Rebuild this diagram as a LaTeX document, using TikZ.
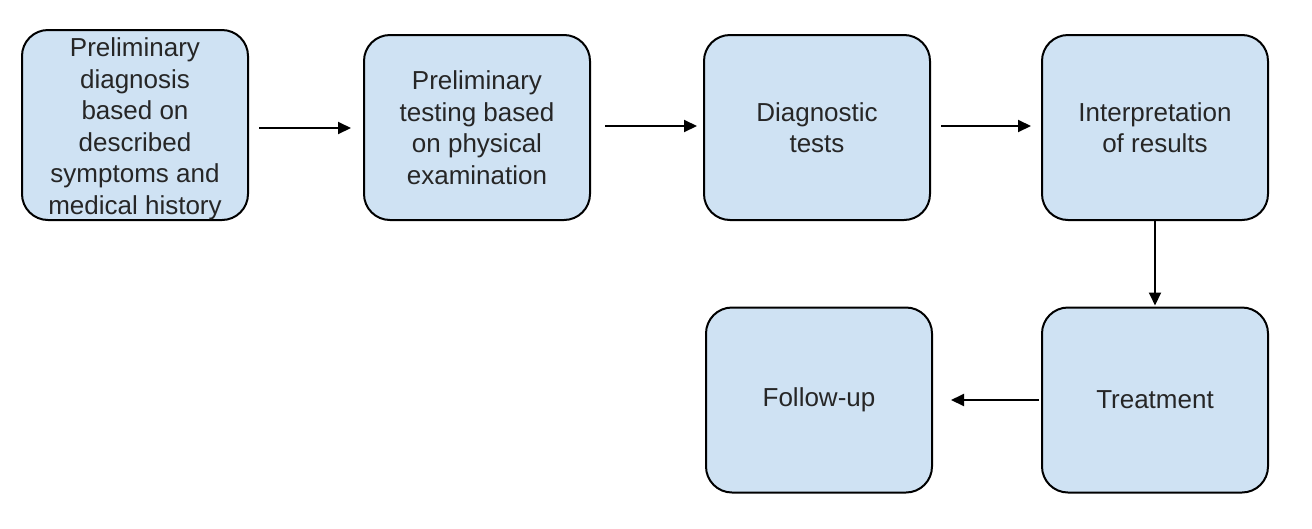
\documentclass[tikz,border=0pt]{standalone}
\usepackage{fontspec}
\setmainfont{Liberation Sans}
\usetikzlibrary{arrows.meta}
\definecolor{boxfill}{HTML}{CFE2F3}
\begin{document}
\begin{tikzpicture}[x=1pt,y=-1pt,
  boxtext/.style={inner sep=0pt, align=center,
    font=\fontsize{26}{31.5}\selectfont, text=black!85},
  stepbox/.style={boxtext, draw=black, line width=2pt, fill=boxfill, rounded corners=26pt,
    minimum width=226pt, minimum height=185pt},
  arr/.style={line width=2pt, -{Triangle[length=13pt,width=12pt]}}]
\useasboundingbox (0,0) rectangle (1312,528);
\node[stepbox, minimum height=190pt] (b1) at (135,125) {};
\node[boxtext] (t1) at ([yshift=-4pt]b1.center) {Preliminary\\diagnosis\\based on\\described\\symptoms and\\medical history};
\node[stepbox] (b2) at (477,127.5) {Preliminary\\testing based\\on physical\\examination};
\node[stepbox] (b3) at (817,127.5) {Diagnostic\\tests};
\node[stepbox] (b4) at (1155,127.5) {Interpretation\\of results};
\node[stepbox] (b5) at (1155,400) {Treatment};
\node[stepbox] (b6) at (819,400) {Follow-up};
\draw[arr, shorten <=10pt, shorten >=12pt] ([yshift=-3pt]b1.east) -- ([yshift=-3pt]b1.east -| b2.west);
\draw[arr, shorten <=14pt, shorten >=6pt] ([yshift=1.5pt]b2.east) -- ([yshift=1.5pt]b2.east -| b3.west);
\draw[arr, shorten <=10pt, shorten >=10pt] ([yshift=1.5pt]b3.east) -- ([yshift=1.5pt]b3.east -| b4.west);
\draw[arr, shorten >=1pt] (b4.south) -- (b5.north);
\draw[arr, shorten <=2pt, shorten >=18pt] (b5.west) -- (b6.east);
\end{tikzpicture}
\end{document}
